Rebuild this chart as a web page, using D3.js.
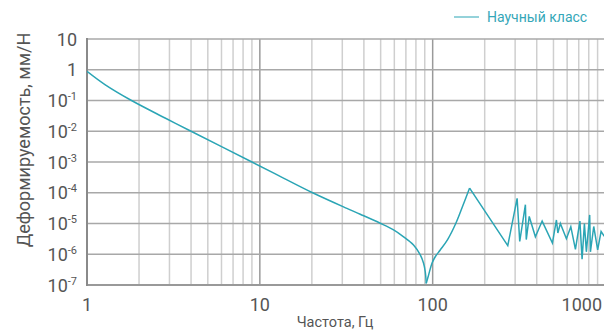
<!DOCTYPE html>
<html>
<head>
<meta charset="utf-8">
<script src="https://cdn.jsdelivr.net/npm/d3@7"></script>
<style>
  body { margin: 0; background: #fff; }
  svg { display: block; font-family: Roboto, "Noto Sans", sans-serif; }
</style>
</head>
<body>
<svg id="chart" width="604" height="331"></svg>
<script>
// data (frequency in Hz, compliance in mm/N)
// smooth fall down to the antiresonance
const freqA = [1, 1.27, 1.81, 2.83, 4.0, 9.0, 13.7, 20.2, 31.9, 38.1, 49.7, 59.4, 67.9, 77.5, 84.8, 88.6, 90.6, 91.8];
const compA = [0.89, 0.33, 0.1, 0.027, 0.01, 0.001, 3.0e-4, 1e-4, 3.1e-5, 2.0e-5, 1.02e-5, 6.2e-6, 3.7e-6,
  2.0e-6, 9.5e-7, 5.1e-7, 2.7e-7, 1.13e-7];
// rise to the resonance peak
const freqB = [91.8, 94.7, 99.1, 103.5, 110.6, 122, 136, 150, 163.6];
const compB = [1.13e-7, 2.1e-7, 5.1e-7, 8.3e-7, 1.38e-6, 3.0e-6, 1.0e-5, 4.0e-5, 1.42e-4];
// noisy high-frequency part
const freqC = [163.6, 272, 308, 319, 344, 348, 362, 393, 430, 493, 520, 530, 548,
  594, 630, 670, 711, 732, 755, 775, 810, 818, 855, 901, 943, 985];
const compC = [1.42e-4, 1.9e-6, 6.6e-5, 2.6e-6, 4.1e-5, 3.0e-6, 1.7e-5,
  3.7e-6, 1.2e-5, 2.3e-6, 1.3e-5, 4.9e-6, 1.0e-5, 3.2e-6, 7.9e-6, 1.45e-6, 1.2e-5, 6.9e-7, 1.0e-5, 1.2e-6,
  1.9e-5, 1.2e-6, 8.0e-6, 1.4e-6, 5.5e-6, 3.8e-6];
const yTickExp = [1, 0, -1, -2, -3, -4, -5, -6, -7];
const xTickLabels = [1, 10, 100, 1000];
const seriesName = "Научный класс";

const svg = d3.select("#chart");
const mLeft = 87, mRight = 605.5, mTop = 39, mBottom = 285;

const x = d3.scaleLog().domain([1, 1000]).range([mLeft, mRight]);
const y = d3.scaleLog().domain([1e-7, 10]).range([mBottom, mTop]);

// vertical grid
const xt = x.ticks();
svg.append("g").selectAll("line")
  .data(xt.filter(d => d > 1))
  .enter().append("line")
  .attr("x1", d => x(d)).attr("x2", d => x(d))
  .attr("y1", mTop).attr("y2", mBottom)
  .attr("stroke", d => Number.isInteger(Math.log10(d)) ? "#9a9a9a" : "#cfcfcf")
  .attr("stroke-width", 1.5);

// horizontal grid
svg.append("g").selectAll("line")
  .data(yTickExp.filter(e => e > -7))
  .enter().append("line")
  .attr("x1", mLeft).attr("x2", 604)
  .attr("y1", d => y(Math.pow(10, d))).attr("y2", d => y(Math.pow(10, d)))
  .attr("stroke", "#a8a8a8")
  .attr("stroke-width", 1.5);

// axis lines
svg.append("line").attr("x1", mLeft).attr("x2", 604).attr("y1", mBottom).attr("y2", mBottom)
  .attr("stroke", "#999").attr("stroke-width", 2);
svg.append("line").attr("x1", mLeft).attr("x2", mLeft).attr("y1", mTop - 1).attr("y2", mBottom + 1)
  .attr("stroke", "#8a8a8a").attr("stroke-width", 2);

// y tick labels
const yl = svg.append("g").attr("fill", "#555").attr("font-size", 18).attr("text-anchor", "end");
yTickExp.forEach(function(e) {
  const t = yl.append("text").attr("x", 77).attr("y", y(Math.pow(10, e)) + 6.5);
  if (e === 1) t.text("10");
  else if (e === 0) t.text("1");
  else {
    t.append("tspan").text("10");
    t.append("tspan").attr("font-size", 11).attr("dy", -7).text(e);
  }
});

// x tick labels
svg.append("g").selectAll("text")
  .data(xTickLabels)
  .enter().append("text")
  .attr("x", d => d === 1000 ? 602 : x(d))
  .attr("y", 311)
  .attr("text-anchor", d => d === 1000 ? "end" : "middle")
  .attr("fill", "#555").attr("font-size", 18)
  .text(d => d);

// axis titles
svg.append("text").attr("x", 335).attr("y", 327).attr("text-anchor", "middle")
  .attr("fill", "#555").attr("font-size", 14.5).text("Частота, Гц");
svg.append("text").attr("transform", "translate(30,140) rotate(-90)").attr("text-anchor", "middle")
  .attr("fill", "#555").attr("font-size", 18).text("Деформируемость, мм/Н");

// curve
svg.append("clipPath").attr("id", "clip").append("rect")
  .attr("x", mLeft).attr("y", mTop).attr("width", mRight - mLeft).attr("height", mBottom - mTop + 1);
const smooth = d3.line().x(d => x(d[0])).y(d => y(d[1])).curve(d3.curveCatmullRom.alpha(0.5));
const straight = d3.line().x(d => x(d[0])).y(d => y(d[1]));
const pieces = [
  [freqA, compA, smooth],
  [freqB, compB, smooth],
  [freqC, compC, straight]
];
const curveG = svg.append("g").attr("clip-path", "url(#clip)");
pieces.forEach(function(p) {
  curveG.append("path")
    .datum(p[0].map((f, i) => [f, p[1][i]]))
    .attr("d", p[2])
    .attr("fill", "none")
    .attr("stroke", "#2ba5b5")
    .attr("stroke-width", 1.5)
    .attr("stroke-linejoin", "miter");
});

// legend
svg.append("line").attr("x1", 454).attr("x2", 479).attr("y1", 17).attr("y2", 17)
  .attr("stroke", "#2ba5b5").attr("stroke-width", 1);
svg.append("text").attr("x", 487).attr("y", 22).attr("fill", "#35a7b8").attr("font-size", 14)
  .text(seriesName);
</script>
</body>
</html>
